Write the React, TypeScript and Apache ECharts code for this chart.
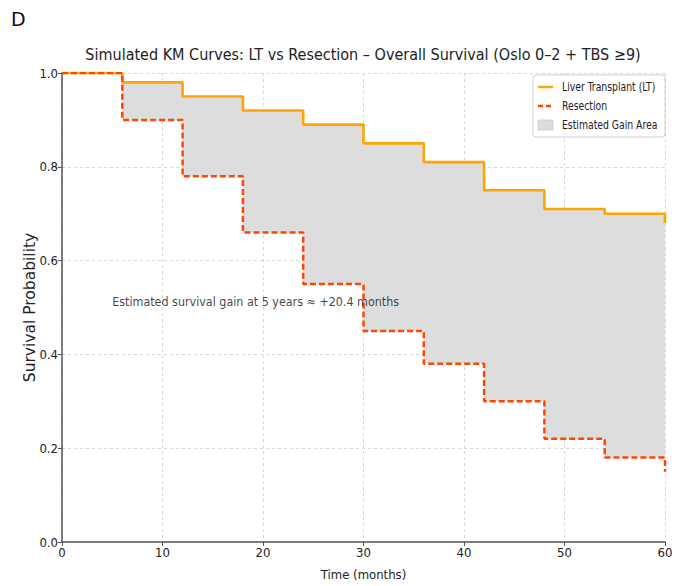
import React, { useEffect, useRef } from "react";
import * as echarts from "echarts";

const times = [0, 6, 12, 18, 24, 30, 36, 42, 48, 54, 60];
const ltSurvival = [1.0, 0.98, 0.95, 0.92, 0.89, 0.85, 0.81, 0.75, 0.71, 0.7, 0.68];
const resSurvival = [1.0, 0.9, 0.78, 0.66, 0.55, 0.45, 0.38, 0.3, 0.22, 0.18, 0.15];
const xTicks = [0, 10, 20, 30, 40, 50, 60];
const yTicks = [0, 0.2, 0.4, 0.6, 0.8, 1.0];
const annotation = { x: 5, y: 0.5, text: "Estimated survival gain at 5 years ≈ +20.4 months" };
const titleText = "Simulated KM Curves: LT vs Resection – Overall Survival (Oslo 0–2 + TBS ≥9)";
const legendNames = ["Liver Transplant (LT)", "Resection", "Estimated Gain Area"];

const FONT = "'DejaVu Sans Condensed', 'DejaVu Sans', sans-serif";
const ORANGE = "#FFA500";
const RED = "#FF4500";
const FILL = "#DDDDDD";

// step-post path points from the data arrays (data coordinates)
function stepPoints(ts: number[], vs: number[]): number[][] {
  const pts: number[][] = [];
  for (let i = 0; i < ts.length; i++) {
    pts.push([ts[i], vs[i]]);
    if (i < ts.length - 1) pts.push([ts[i + 1], vs[i]]);
  }
  return pts;
}

export default function App() {
  const ref = useRef<HTMLDivElement>(null);
  useEffect(() => {
    document.body.style.margin = "0";
    const chart = echarts.init(ref.current!, null, { renderer: "svg" });
    const upper = stepPoints(times, ltSurvival);
    const lower = stepPoints(times, resSurvival).reverse();
    const legX = 533;
    const legY = 75;
    const lz = 100;
    const legText = (i: number, y: number) => ({
      type: "text",
      z: lz,
      x: legX + 29,
      y: legY + y,
      scaleX: 0.86,
      style: { text: legendNames[i], fontFamily: FONT, fontSize: 12, fill: "#222", verticalAlign: "middle" },
    });
    chart.setOption({
      animation: false,
      backgroundColor: "#ffffff",
      grid: { left: 62, right: 20, top: 73, bottom: 43 },
      xAxis: {
        type: "value",
        min: 0,
        max: 60,
        interval: 10,
        name: "Time (months)",
        nameLocation: "middle",
        nameGap: 26,
        nameTextStyle: { fontFamily: FONT, fontSize: 13, color: "#222" },
        axisLine: { show: true, lineStyle: { color: "#555", width: 1.5 } },
        axisTick: { show: true, length: 4, lineStyle: { color: "#555" } },
        axisLabel: {
          fontFamily: FONT,
          fontSize: 13,
          color: "#222",
          margin: 4,
          formatter: (v: number) => (xTicks.includes(v) ? String(v) : ""),
        },
        splitLine: { show: true, lineStyle: { color: "#cccccc", type: [3, 3], width: 0.8 } },
      },
      yAxis: {
        type: "value",
        min: 0,
        max: 1,
        interval: 0.2,
        name: "Survival Probability",
        nameLocation: "middle",
        nameGap: 24,
        nameMoveOverlap: false,
        nameTextStyle: { fontFamily: "'DejaVu Sans', sans-serif", fontSize: 15.5, color: "#222" },
        axisLine: { show: true, lineStyle: { color: "#555", width: 1.5 } },
        axisTick: { show: true, length: 4, lineStyle: { color: "#555" } },
        axisLabel: {
          fontFamily: FONT,
          fontSize: 13,
          color: "#222",
          margin: 4,
          formatter: (v: number) => (yTicks.some((t) => Math.abs(t - v) < 1e-6) ? v.toFixed(1) : ""),
        },
        splitLine: { show: true, lineStyle: { color: "#cccccc", type: [3, 3], width: 0.8 } },
      },
      series: [
        {
          name: legendNames[2],
          type: "custom",
          data: [0],
          silent: true,
          z: 1,
          renderItem: (_params: any, api: any) => {
            const pts = upper.concat(lower).map((p) => api.coord(p));
            return {
              type: "polygon",
              shape: { points: pts },
              style: { fill: FILL, stroke: "none" },
            };
          },
        },
        {
          name: legendNames[0],
          type: "line",
          data: times.map((t, i) => [t, ltSurvival[i]]),
          step: "end",
          showSymbol: false,
          symbol: "none",
          lineStyle: { color: ORANGE, width: 2.6 },
          z: 3,
        },
        {
          name: legendNames[1],
          type: "line",
          data: times.map((t, i) => [t, resSurvival[i]]),
          step: "end",
          showSymbol: false,
          symbol: "none",
          lineStyle: { color: RED, width: 2.5, type: [6, 3] },
          z: 4,
        },
        {
          name: "annotation",
          type: "scatter",
          data: [[annotation.x, annotation.y]],
          symbolSize: 0,
          silent: true,
          label: {
            show: true,
            position: [0, 0],
            align: "left",
            verticalAlign: "bottom",
            formatter: annotation.text,
            fontFamily: FONT,
            fontSize: 12.4,
            color: "#111",
          },
          z: 5,
        },
      ],
      graphic: [
        {
          type: "text",
          left: 11,
          top: 9,
          style: { text: "D", fontFamily: "'DejaVu Sans', sans-serif", fontSize: 19, fill: "#111" },
        },
        {
          type: "text",
          x: 363,
          y: 54,
          style: {
            text: titleText,
            fontFamily: FONT,
            fontSize: 16,
            fill: "#222",
            align: "center",
            verticalAlign: "middle",
          },
        },
        {
          type: "rect",
          z: lz,
          shape: { x: legX, y: legY, width: 132, height: 62, r: 3 },
          style: { fill: "rgba(255,255,255,0.85)", stroke: "#d0d0d0", lineWidth: 1 },
        },
        {
          type: "line",
          z: lz,
          shape: { x1: legX + 5, y1: legY + 12, x2: legX + 20, y2: legY + 12 },
          style: { stroke: ORANGE, lineWidth: 2.5 },
        },
        legText(0, 12),
        {
          type: "line",
          z: lz,
          shape: { x1: legX + 5, y1: legY + 31, x2: legX + 20, y2: legY + 31 },
          style: { stroke: RED, lineWidth: 2.5, lineDash: [5, 3] },
        },
        legText(1, 31),
        {
          type: "rect",
          z: lz,
          shape: { x: legX + 5, y: legY + 45, width: 15, height: 10 },
          style: { fill: FILL, stroke: "#cccccc", lineWidth: 0.8 },
        },
        legText(2, 50),
      ],
    });
    return () => chart.dispose();
  }, []);
  return (
    <div
      ref={ref}
      style={{ position: "absolute", left: 0, top: 0, width: 685, height: 586 }}
    />
  );
}
